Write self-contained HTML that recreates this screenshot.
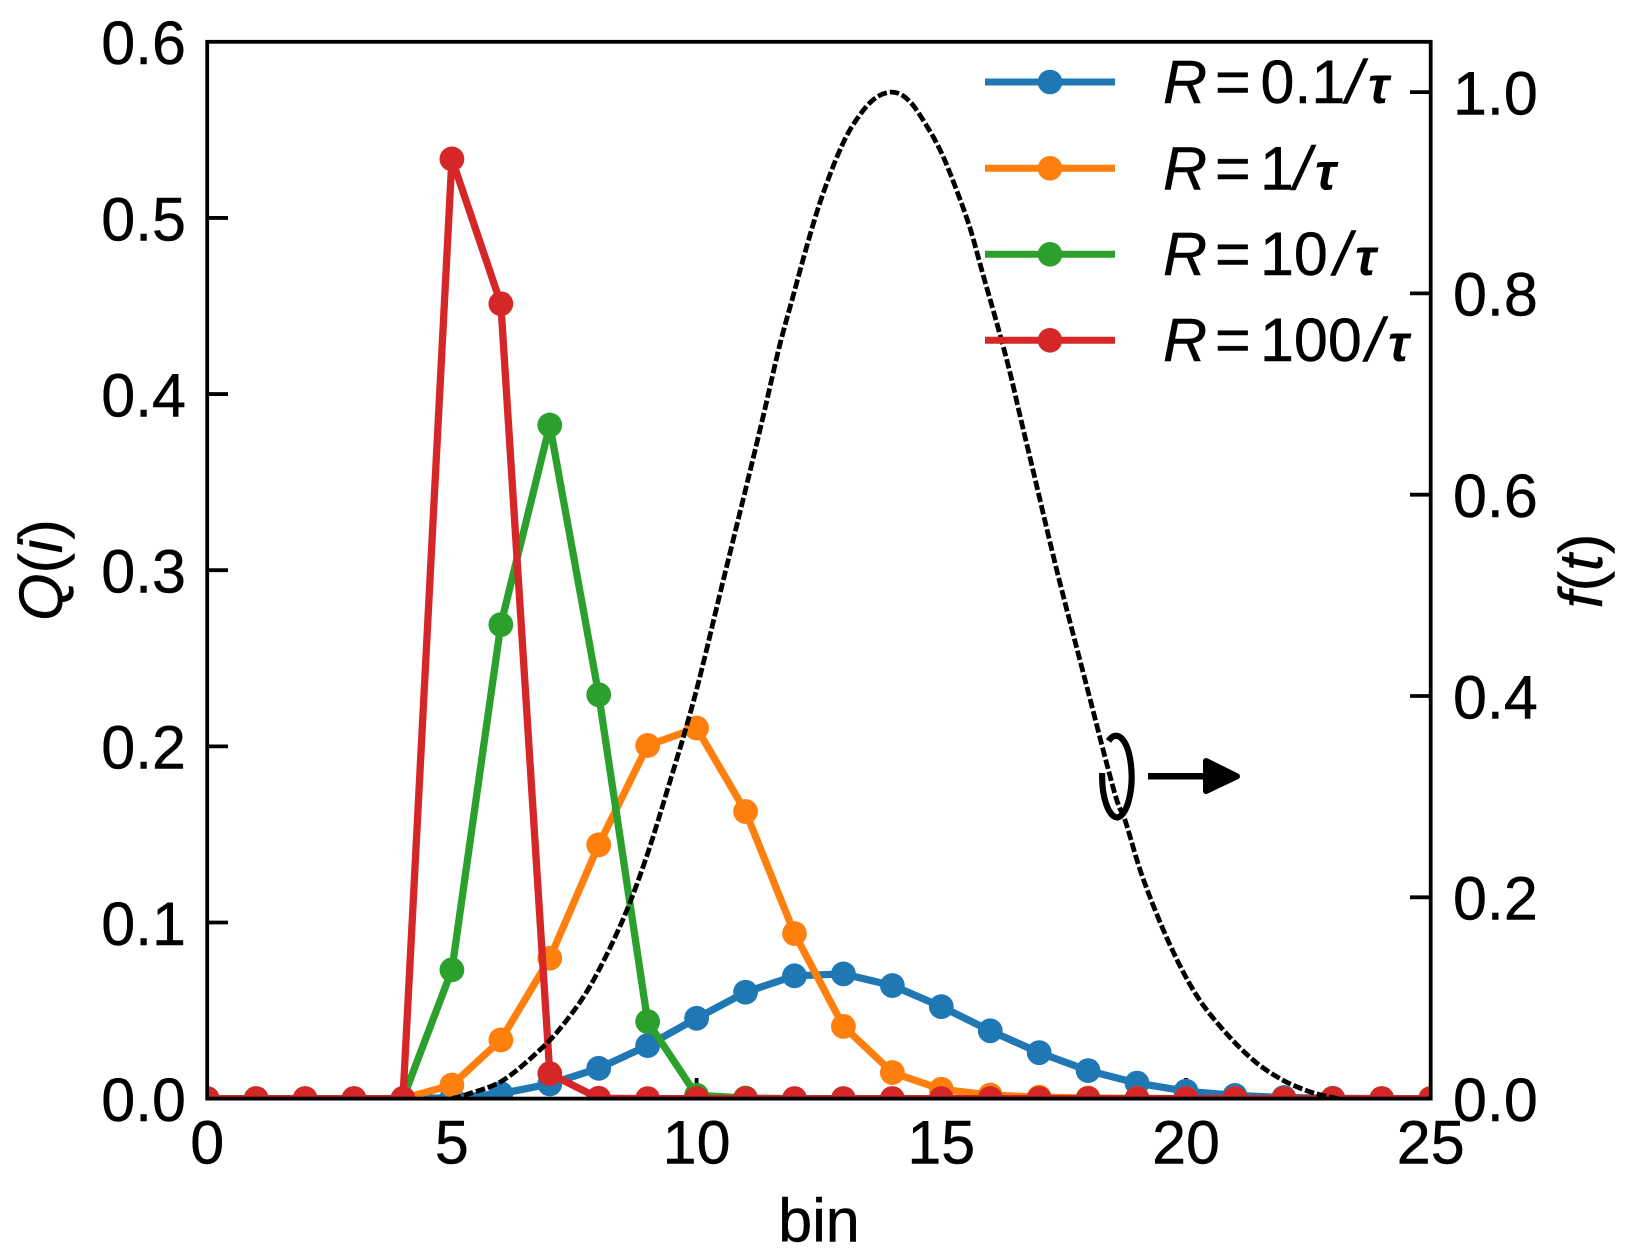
<!DOCTYPE html>
<html lang="en">
<head>
<meta charset="utf-8">
<title>Q(i) versus bin</title>
<style>
html,body{margin:0;padding:0;background:#fff;}
svg{display:block;}
text{font-family:"Liberation Sans",sans-serif;font-size:61px;fill:#000;stroke:#000;stroke-width:0.45px;}
.it{font-style:italic;}
.tau{font-style:italic;font-weight:bold;font-size:52px;stroke-width:0;}
</style>
</head>
<body>
<svg id="chart" xmlns="http://www.w3.org/2000/svg" width="1637" height="1259" viewBox="0 0 1637 1259">
  <defs>
    <clipPath id="axes-clip"><rect x="207.2" y="41.8" width="1223.5" height="1056.8"/></clipPath>
  </defs>
  <rect x="0" y="0" width="1637" height="1259" fill="#fff"/>
  <g id="ticks-main"></g>
  <g id="series" clip-path="url(#axes-clip)"></g>
  <g id="curve" clip-path="url(#axes-clip)"></g>
  <g id="ticks-right"></g>
  <rect x="207.2" y="41.8" width="1223.5" height="1056.8" fill="none" stroke="#000" stroke-width="3.8"/>

  <g>
    <g>
      <line x1="985" x2="1115" y1="82" y2="82" stroke="#1f77b4" stroke-width="7"/>
      <circle cx="1050" cy="82" r="12.3" fill="#1f77b4"/>
      <text y="103"><tspan class="it" x="1163">R</tspan><tspan x="1215">=</tspan><tspan x="1260.5">0.1</tspan><tspan class="it" x="1346">/</tspan><tspan class="tau" x="1368">τ</tspan></text>
    </g>
    <g>
      <line x1="985" x2="1115" y1="168.3" y2="168.3" stroke="#ff7f0e" stroke-width="7"/>
      <circle cx="1050" cy="168.3" r="12.3" fill="#ff7f0e"/>
      <text y="189.5"><tspan class="it" x="1163">R</tspan><tspan x="1215">=</tspan><tspan x="1260">1</tspan><tspan class="it" x="1294">/</tspan><tspan class="tau" x="1315">τ</tspan></text>
    </g>
    <g>
      <line x1="985" x2="1115" y1="254.3" y2="254.3" stroke="#2ca02c" stroke-width="7"/>
      <circle cx="1050" cy="254.3" r="12.3" fill="#2ca02c"/>
      <text y="275"><tspan class="it" x="1163">R</tspan><tspan x="1215">=</tspan><tspan x="1260">10</tspan><tspan class="it" x="1334">/</tspan><tspan class="tau" x="1355">τ</tspan></text>
    </g>
    <g>
      <line x1="985" x2="1115" y1="340.3" y2="340.3" stroke="#d62728" stroke-width="7"/>
      <circle cx="1050" cy="340.3" r="12.3" fill="#d62728"/>
      <text y="361"><tspan class="it" x="1163">R</tspan><tspan x="1215">=</tspan><tspan x="1260">100</tspan><tspan class="it" x="1366">/</tspan><tspan class="tau" x="1388">τ</tspan></text>
    </g>
  </g>

  <g>
    <path d="M1108.5 741 A15.5 41 0 1 1 1117.7 817.5 A15.5 41 0 0 1 1102.2 773" fill="none" stroke="#000" stroke-width="6.2"/>
    <line x1="1148" x2="1210" y1="776.3" y2="776.3" stroke="#000" stroke-width="6.5"/>
    <polygon points="1206,761 1237,776.3 1206,791" fill="#000" stroke="#000" stroke-width="6" stroke-linejoin="round"/>
  </g>

  <text x="819" y="1241.7" text-anchor="middle">bin</text>
  <text transform="translate(62,570) rotate(-90)" text-anchor="middle"><tspan class="it">Q</tspan>(<tspan class="it">i</tspan>)</text>
  <text transform="translate(1602,571) rotate(-90)" text-anchor="middle"><tspan class="it">f</tspan>(<tspan class="it">t</tspan>)</text>
</svg>
<script>
var bins = [0,1,2,3,4,5,6,7,8,9,10,11,12,13,14,15,16,17,18,19,20,21,22,23,24,25];
var seriesBlue   = [0,0,0,0,0,0.0005,0.0028,0.0083,0.0172,0.0301,0.0456,0.0604,0.0697,0.0708,0.0642,0.0522,0.0385,0.0261,0.0159,0.0088,0.0042,0.0018,0.0006,0.0002,0,0];
var seriesOrange = [0,0,0,0,0,0.0077,0.0333,0.0797,0.1441,0.2005,0.2104,0.1630,0.0937,0.0410,0.0148,0.0053,0.0020,0.0008,0.0003,0.0001,0,0,0,0,0,0];
var seriesGreen  = [0,0,0,0,0,0.0731,0.2691,0.3824,0.2293,0.0437,0.0019,0.0003,0,0,0,0,0,0,0,0,0,0,0,0,0,0];
var seriesRed    = [0,0,0,0,0,0.5335,0.4513,0.0142,0.0002,0,0,0,0,0,0,0,0,0,0,0,0,0,0,0,0,0];
var curveT = [5.0,5.36,6.04,6.79,7.30,7.85,8.46,8.94,9.38,9.96,10.53,11.08,11.39,11.69,11.97,12.27,12.54,12.88,13.19,13.60,14,14.35,14.72,15.0,15.27,15.58,15.85,16.12,16.39,16.63,16.90,17.38,17.97,18.54,18.76,19.12,19.66,20.21,20.82,21.43,21.98,22.45,22.73,23.1];
var curveF = [0,0.005,0.018,0.048,0.075,0.114,0.174,0.235,0.303,0.399,0.512,0.621,0.684,0.747,0.797,0.850,0.893,0.937,0.967,0.992,1.0,0.991,0.965,0.940,0.908,0.866,0.819,0.773,0.724,0.674,0.619,0.521,0.410,0.304,0.2758,0.219,0.154,0.103,0.065,0.036,0.0183,0.0082,0.004,0];
var xTicks = [0,5,10,15,20,25];
var yTicks = [0.0,0.1,0.2,0.3,0.4,0.5,0.6];
var rightTicks = [0.0,0.2,0.4,0.6,0.8,1.0];

var NS = 'http://www.w3.org/2000/svg';
function xScale(v){ return 207.2 + 48.94 * v; }
function yScale(v){ return 1098.6 - 1761.3 * v; }
function rScale(v){ return 1098.6 - 1006.5 * v; }
function make(tag, parent, attrs){
  var el = document.createElementNS(NS, tag);
  for (var k in attrs) el.setAttribute(k, attrs[k]);
  parent.appendChild(el);
  return el;
}

var ticksMain = document.getElementById('ticks-main');
var ticksRight = document.getElementById('ticks-right');
var seriesG = document.getElementById('series');
var curveG = document.getElementById('curve');

xTicks.forEach(function(v){
  var px = xScale(v);
  if (v > 0 && v < 25) {
    var t = make('line', ticksMain, {x1:px, x2:px, y1:1098.6, y2:1078, stroke:'#000', 'stroke-width':3.8});
    
    
  }
  var l = make('text', ticksMain, {x:px, y:1163.3, 'text-anchor':'middle'});
  
  
  l.textContent = String(v);
});
yTicks.forEach(function(v){
  var py = yScale(v);
  if (v > 0 && v < 0.6) {
    var t = make('line', ticksMain, {x1:207.2, x2:228, y1:py, y2:py, stroke:'#000', 'stroke-width':3.8});
    
    
  }
  var l = make('text', ticksMain, {x:186, y:py + 22.3, 'text-anchor':'end'});
  
  
  l.textContent = v.toFixed(1);
});
rightTicks.forEach(function(v){
  var py = rScale(v);
  if (v > 0) {
    var t = make('line', ticksRight, {x1:1430.7, x2:1410, y1:py, y2:py, stroke:'#000', 'stroke-width':3.8});
    
    
  }
  var l = make('text', ticksRight, {x:1453, y:py + 22.3});
  
  
  l.textContent = v.toFixed(1);
});

function drawSeries(name, values, color){
  var g = make('g', seriesG, {});
  
  
  var pts = values.map(function(v, i){ return xScale(bins[i]).toFixed(2) + ',' + yScale(v).toFixed(2); }).join(' ');
  var line = make('polyline', g, {points:pts, fill:'none', stroke:color, 'stroke-width':7.3, 'stroke-linejoin':'round', 'stroke-linecap':'square'});
  
  
  values.forEach(function(v, i){
    var c = make('circle', g, {cx:xScale(bins[i]), cy:yScale(v), r:12.4, fill:color});
    
    
  });
}
drawSeries('series-r-0.1', seriesBlue, '#1f77b4');
drawSeries('series-r-1', seriesOrange, '#ff7f0e');
drawSeries('series-r-10', seriesGreen, '#2ca02c');
drawSeries('series-r-100', seriesRed, '#d62728');

var cp = curveT.map(function(t, i){ return [xScale(t), rScale(curveF[i])]; });
var d = 'M' + cp[0][0].toFixed(2) + ' ' + cp[0][1].toFixed(2);
for (var i = 0; i < cp.length - 1; i++) {
  var p0 = cp[Math.max(0, i - 1)], p1 = cp[i], p2 = cp[i + 1], p3 = cp[Math.min(cp.length - 1, i + 2)];
  d += ' C' + (p1[0] + (p2[0] - p0[0]) / 6).toFixed(2) + ' ' + (p1[1] + (p2[1] - p0[1]) / 6).toFixed(2) +
       ' ' + (p2[0] - (p3[0] - p1[0]) / 6).toFixed(2) + ' ' + (p2[1] - (p3[1] - p1[1]) / 6).toFixed(2) +
       ' ' + p2[0].toFixed(2) + ' ' + p2[1].toFixed(2);
}
var curvePath = make('path', curveG, {d:d, fill:'none', stroke:'#000', 'stroke-width':4.8, 'stroke-dasharray':'9.5 3'});


</script>
</body>
</html>
